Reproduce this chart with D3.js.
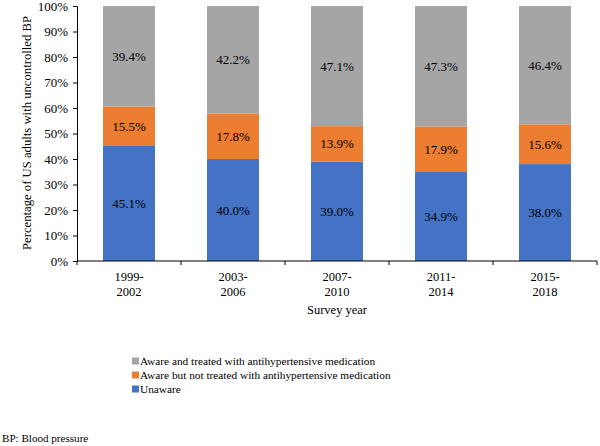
<!DOCTYPE html>
<html><head><meta charset="utf-8">
<script src="https://cdn.jsdelivr.net/npm/d3@7"></script>
<style>body{margin:0;background:#fff}svg{display:block}text{font-family:"Liberation Serif","Times New Roman",serif;fill:#000}</style>
</head><body><svg id="c" width="600" height="446"></svg>
<script>
const categories = [["1999-","2002"],["2003-","2006"],["2007-","2010"],["2011-","2014"],["2015-","2018"]];
const unaware = [45.1, 40.0, 39.0, 34.9, 38.0];
const awareNotTreated = [15.5, 17.8, 13.9, 17.9, 15.6];
const awareTreated = [39.4, 42.2, 47.1, 47.3, 46.4];
const yTicks = [0,10,20,30,40,50,60,70,80,90,100];
const seriesNames = ["Unaware","Aware but not treated with antihypertensive medication","Aware and treated with antihypertensive medication"];
const colors = ["#4472C4","#ED7D31","#A5A5A5"];

const svg = d3.select("#c");
const L = 77, R = 597, T = 6, B = 261;
const keys = categories.map(c => c.join(""));
const x = d3.scaleBand().domain(keys).range([L, R]).paddingInner(0.5).paddingOuter(0.25);
const y = d3.scaleLinear().domain([0,100]).range([B, T]).clamp(true);

const rows = keys.map((k,i) => ({k, s0: unaware[i], s1: awareNotTreated[i], s2: awareTreated[i]}));
const stack = d3.stack().keys(["s0","s1","s2"])(rows);

stack.forEach((layer, li) => {
  const g = svg.append("g");
  g.selectAll("rect").data(layer).join("rect")
    .attr("x", d => x(d.data.k)).attr("width", x.bandwidth())
    .attr("y", d => y(d[1])).attr("height", d => y(d[0]) - y(d[1]))
    .attr("fill", colors[li]);
  g.selectAll("text").data(layer).join("text")
    .attr("x", d => x(d.data.k) + x.bandwidth()/2)
    .attr("y", d => (y(d[0]) + y(d[1]))/2)
    .attr("dy", "0.35em").attr("text-anchor","middle").attr("font-size", 13)
    .text(d => (d[1]-d[0]).toFixed(1) + "%");
});

// y axis
const ya = svg.append("g").attr("transform", `translate(${L},0)`)
  .call(d3.axisLeft(y).tickValues(yTicks).tickSize(4).tickPadding(5).tickFormat(d => d + "%"));
ya.selectAll("text").attr("font-size", 13);
ya.select(".domain").attr("stroke","#000");
ya.selectAll(".tick line").attr("stroke","#000");

// x axis
svg.append("line").attr("x1", L).attr("x2", R).attr("y1", B).attr("y2", B).attr("stroke","#000");
const bounds = keys.map(k => x(k) - (x.step() - x.bandwidth())/2).concat([R]);
svg.selectAll(".xt").data(bounds).join("line")
  .attr("x1", d => d).attr("x2", d => d).attr("y1", B).attr("y2", B + 4).attr("stroke","#000");
const xl = svg.append("g");
categories.forEach((c, i) => {
  const cx = x(keys[i]) + x.bandwidth()/2;
  c.forEach((line, j) => {
    xl.append("text").attr("x", cx).attr("y", 277 + j*15).attr("dy","0.35em")
      .attr("text-anchor","middle").attr("font-size", 12.5).text(line);
  });
});
svg.append("text").attr("x", (L+R)/2).attr("y", 310).attr("dy","0.35em")
  .attr("text-anchor","middle").attr("font-size", 12.5).text("Survey year");
svg.append("text").attr("transform", `translate(27,${(5+B)/2}) rotate(-90)`)
  .attr("dy","0.35em").attr("text-anchor","middle").attr("font-size", 12.7)
  .text("Percentage of US adults with uncontrolled BP");

// legend
const legOrder = [2,1,0];
legOrder.forEach((si, j) => {
  const ly = 361 + j*14;
  svg.append("rect").attr("x", 132).attr("y", ly - 3.5).attr("width", 7).attr("height", 7).attr("fill", colors[si]);
  svg.append("text").attr("x", 140).attr("y", ly).attr("dy","0.35em").attr("font-size", 11.3).text(seriesNames[si]);
});

svg.append("text").attr("x", 2).attr("y", 438).attr("dy","0.35em").attr("font-size", 11.1).text("BP: Blood pressure");
</script></body></html>
